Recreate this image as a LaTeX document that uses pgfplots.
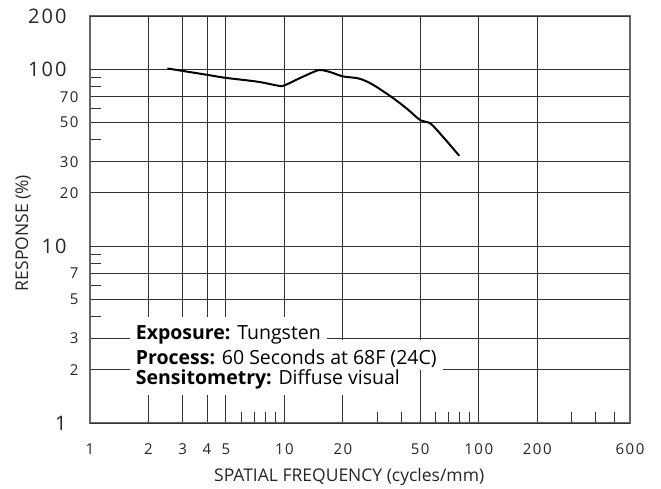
\documentclass[border=0pt]{standalone}
\usepackage{fontspec}
\setmainfont{Open Sans}
\newfontfamily\tickfont{Open Sans}[LetterSpace=10]
\usepackage{pgfplots}
\pgfplotsset{compat=1.18}
\begin{document}
\begin{tikzpicture}
\useasboundingbox (-90pt,-65pt) rectangle (571pt,423pt);
\begin{axis}[
  scale only axis, width=540pt, height=407pt,
  xmode=log, ymode=log,
  xmin=1, xmax=600, ymin=1, ymax=200,
  axis line style={draw=black!60, line width=1.2pt},
  xtick={1,2,3,4,5,10,20,50,100,200,600},
  xticklabels={1,2,3,4,5,10,20,50,100,200,600},
  minor xtick={6,7,8,9,30,40,60,70,80,90,300,400,500},
  ytick={2,3,5,7,20,30,50,70},
  yticklabels={2,3,5,7,20,30,50,70},
  minor ytick={4,6,8,9,40,60,80,90},
  extra y ticks={1,10,100,200},
  extra y tick labels={1,10,100,200},
  extra y tick style={yticklabel style={font=\tickfont\fontsize{20}{22}\selectfont, xshift=-12pt}, grid=major},
  grid=major,
  major grid style={draw=black!80, line width=0.9pt},
  major tick length=0pt,
  minor tick length=11pt,
  tick align=inside,
  xtick pos=bottom, ytick pos=left,
  minor tick style={draw=black!80, line width=0.9pt},
  tick label style={font=\tickfont\fontsize{15}{17}\selectfont, text=black!85},
  xticklabel style={yshift=-17pt},
  yticklabel style={xshift=-8pt},
  xlabel={SPATIAL FREQUENCY (cycles/mm)},
  ylabel={RESPONSE (\%)},
  label style={font=\fontsize{17.5}{20}\selectfont, text=black!85},
  xlabel style={at={(axis description cs:0.48,0)}, anchor=center, yshift=-54pt},
  ylabel style={at={(axis description cs:-0.124,0.467)}, anchor=center},
  clip=false,
]
\addplot[black, line width=2pt, smooth, tension=0.5] coordinates {
 (2.5,101) (4.0,93) (4.95,89.5) (7.3,85) (9.3,80.7) (10,81) (12.2,89.8)
 (14.9,98.7) (16.2,98) (17.5,95.8) (20.1,91) (24.1,88.7) (28.2,82.4)
 (35.8,69.4) (42.8,59.7) (50.2,51.4) (56.6,49.2) (67.8,39.7) (79.4,32.4)
};
\begin{scope}[every node/.style={font=\fontsize{19.5}{22}\selectfont, anchor=base west, inner xsep=6pt, inner ysep=0pt}]
\node[fill=white, text=white, text height=22pt, text depth=4pt] at (axis cs:1.6,2.97) {\textbf{Exposure:} Tungsten};
\node[fill=white, text=white, text height=24pt, text depth=6pt] at (axis cs:1.6,2.15) {\textbf{Process:} 60 Seconds at 68F (24C)};
\node[fill=white, text=white, text height=14pt, text depth=11pt] at (axis cs:1.6,1.66) {\textbf{Sensitometry:} Diffuse visual};
\node at (axis cs:1.6,2.97) {\textbf{Exposure:} Tungsten};
\node at (axis cs:1.6,2.15) {\textbf{Process:} 60 Seconds at 68F (24C)};
\node at (axis cs:1.6,1.66) {\textbf{Sensitometry:} Diffuse visual};
\end{scope}
\end{axis}
\end{tikzpicture}
\end{document}
